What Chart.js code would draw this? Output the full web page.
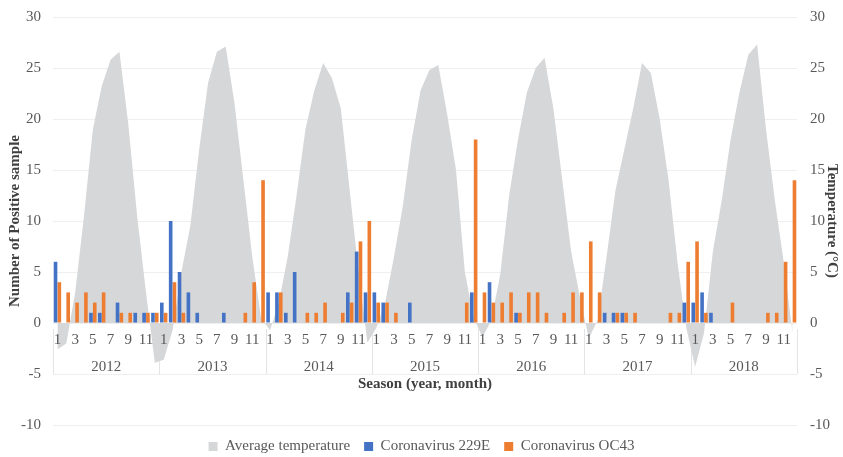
<!DOCTYPE html>
<html>
<head>
<meta charset="utf-8">
<script src="https://cdn.jsdelivr.net/npm/chart.js@4.4.1/dist/chart.umd.min.js"></script>
<style>
    html, body { margin: 0; padding: 0; background: #fff; }
    #wrap { width: 843px; height: 457px; }
</style>
</head>
<body>
<div id="wrap"><canvas id="seasonChart"></canvas></div>
<script>
const years = ['2012', '2013', '2014', '2015', '2016', '2017', '2018'];
const monthTicks = ['1', '', '3', '', '5', '', '7', '', '9', '', '11', ''];

// monthly average temperature (°C), Jan..Dec per year
const avgTemperature = [
    -2.6, -2.0, 3.0, 10.5, 19.0, 23.2, 25.8, 26.6, 19.5, 10.5, 3.0, -3.9,
    -3.6, -0.7, 5.0, 9.5, 17.0, 23.5, 26.6, 27.1, 21.5, 14.0, 6.5, 0.5,
    -0.7, 2.0, 6.5, 12.5, 19.0, 22.8, 25.5, 24.0, 21.0, 13.0, 5.0, -1.9,
    -0.5, 2.0, 6.5, 11.5, 18.0, 22.8, 24.8, 25.3, 20.5, 15.0, 5.0, 0.5,
    -1.4, 0.3, 4.8, 12.5, 18.0, 22.6, 25.0, 26.0, 21.0, 14.0, 7.0, 2.5,
    -1.5, 0.3, 6.5, 13.0, 17.0, 21.0, 25.5, 24.5, 20.0, 14.0, 6.0, -0.5,
    -4.3, -1.0, 7.0, 12.0, 18.0, 22.6, 26.3, 27.3, 19.0, 12.0, 6.0, -1.0
];

// positive samples per month
const corona229E = [
    6, 0, 0, 0, 1, 1, 0, 2, 0, 1, 1, 1,
    2, 10, 5, 3, 1, 0, 0, 1, 0, 0, 0, 0,
    3, 3, 1, 5, 0, 0, 0, 0, 0, 3, 7, 3,
    3, 2, 0, 0, 2, 0, 0, 0, 0, 0, 0, 3,
    0, 4, 0, 0, 1, 0, 0, 0, 0, 0, 0, 0,
    0, 0, 1, 1, 1, 0, 0, 0, 0, 0, 0, 2,
    2, 3, 1, 0, 0, 0, 0, 0, 0, 0, 0, 0
];

const coronaOC43 = [
    4, 3, 2, 3, 2, 3, 0, 1, 1, 0, 1, 1,
    1, 4, 1, 0, 0, 0, 0, 0, 0, 1, 4, 14,
    0, 3, 0, 0, 1, 1, 2, 0, 1, 2, 8, 10,
    2, 2, 1, 0, 0, 0, 0, 0, 0, 0, 2, 18,
    3, 2, 2, 3, 1, 3, 3, 1, 0, 1, 3, 3,
    8, 3, 0, 1, 1, 1, 0, 0, 0, 1, 1, 6,
    8, 1, 0, 0, 2, 0, 0, 0, 1, 1, 6, 14
];

const categories = years.flatMap(y => monthTicks.map((m, i) => y + '-' + (i + 1)));

const serif = "'Liberation Serif', 'Times New Roman', serif";
const tickColor = '#595959';
const titleColor = '#404040';

// year separators under the month labels + x axis title
const seasonAxis = {
    id: 'seasonAxis',
    beforeDatasetsDraw(chart) {
        const ctx = chart.ctx;
        const x = chart.scales.x;
        const y = chart.scales.y;
        const half = (x.getPixelForValue(1) - x.getPixelForValue(0)) / 2;
        const top = y.getPixelForValue(0) + 6;
        const bottom = y.getPixelForValue(-5);
        ctx.save();
        ctx.strokeStyle = '#e4e4e4';
        ctx.lineWidth = 1;
        for (let k = 0; k <= years.length; k++) {
            const px = k < years.length
                ? x.getPixelForValue(k * 12) - half
                : x.getPixelForValue(categories.length - 1) + half;
            ctx.beginPath();
            ctx.moveTo(Math.round(px) + 0.5, top);
            ctx.lineTo(Math.round(px) + 0.5, bottom);
            ctx.stroke();
        }
        ctx.restore();
    },
    afterDraw(chart) {
        const ctx = chart.ctx;
        const area = chart.chartArea;
        const y = chart.scales.y;
        ctx.save();
        ctx.font = 'bold 15px ' + serif;
        ctx.fillStyle = titleColor;
        ctx.textAlign = 'center';
        ctx.textBaseline = 'middle';
        ctx.fillText('Season (year, month)', (area.left + area.right) / 2, y.getPixelForValue(-5) + 10);
        ctx.restore();
    }
};

function fixWidth(w) {
    return scale => {
        scale.width = w;
        scale.paddingTop = 0;
        scale.paddingBottom = 0;
    };
}

new Chart(document.getElementById('seasonChart'), {
    type: 'bar',
    data: {
        labels: categories,
        datasets: [
            {
                type: 'line',
                label: 'Average temperature',
                data: avgTemperature,
                yAxisID: 'y2',
                fill: 'origin',
                backgroundColor: '#d6d7d9',
                borderColor: '#d6d7d9',
                borderWidth: 0,
                pointRadius: 0,
                tension: 0,
                order: 2
            },
            {
                label: 'Coronavirus 229E',
                data: corona229E,
                backgroundColor: '#4472c4',
                categoryPercentage: 0.86,
                barPercentage: 0.95,
                order: 1
            },
            {
                label: 'Coronavirus OC43',
                data: coronaOC43,
                backgroundColor: '#ed7d31',
                categoryPercentage: 0.86,
                barPercentage: 0.95,
                order: 1
            }
        ]
    },
    options: {
        responsive: true,
        maintainAspectRatio: false,
        animation: false,
        layout: { padding: { top: 17, bottom: -7 } },
        plugins: {
            tooltip: { enabled: false },
            legend: {
                position: 'bottom',
                labels: {
                    boxWidth: 9,
                    boxHeight: 9,
                    padding: 14,
                    color: tickColor,
                    font: { family: serif, size: 15 },
                    sort: (a, b) => a.datasetIndex - b.datasetIndex
                }
            }
        },
        scales: {
            x: {
                type: 'category',
                position: { y: 0 },
                offset: true,
                grid: { display: false, drawTicks: false },
                border: { display: false },
                ticks: {
                    z: 1,
                    autoSkip: false,
                    maxRotation: 0,
                    padding: 8,
                    color: tickColor,
                    font: { family: serif, size: 15 },
                    callback: (val, index) => monthTicks[index % 12]
                }
            },
            xYear: {
                type: 'category',
                labels: years,
                position: { y: 0 },
                offset: true,
                grid: { display: false, drawTicks: false },
                border: { display: false },
                ticks: {
                    z: 1,
                    autoSkip: false,
                    maxRotation: 0,
                    padding: 35,
                    color: tickColor,
                    font: { family: serif, size: 15 }
                }
            },
            y: {
                position: 'left',
                min: -10,
                max: 30,
                afterFit: fixWidth(53),
                grid: { color: '#efefef', drawTicks: false },
                border: { display: false },
                ticks: {
                    stepSize: 5,
                    padding: 12,
                    color: tickColor,
                    font: { family: serif, size: 15 }
                },
                title: {
                    display: true,
                    text: 'Number of Positive sample',
                    color: titleColor,
                    padding: { top: 6, bottom: 0 },
                    font: { family: serif, size: 15, weight: 'bold' }
                }
            },
            y2: {
                position: 'right',
                min: -10,
                max: 30,
                afterFit: fixWidth(46),
                grid: { display: false, drawTicks: false },
                border: { display: false },
                ticks: {
                    stepSize: 5,
                    padding: 13,
                    color: tickColor,
                    font: { family: serif, size: 15 }
                },
                title: {
                    display: true,
                    text: 'Temperature (°C)',
                    color: titleColor,
                    padding: { top: 2, bottom: 0 },
                    font: { family: serif, size: 15, weight: 'bold' }
                }
            }
        }
    },
    plugins: [seasonAxis]
});
</script>
</body>
</html>
